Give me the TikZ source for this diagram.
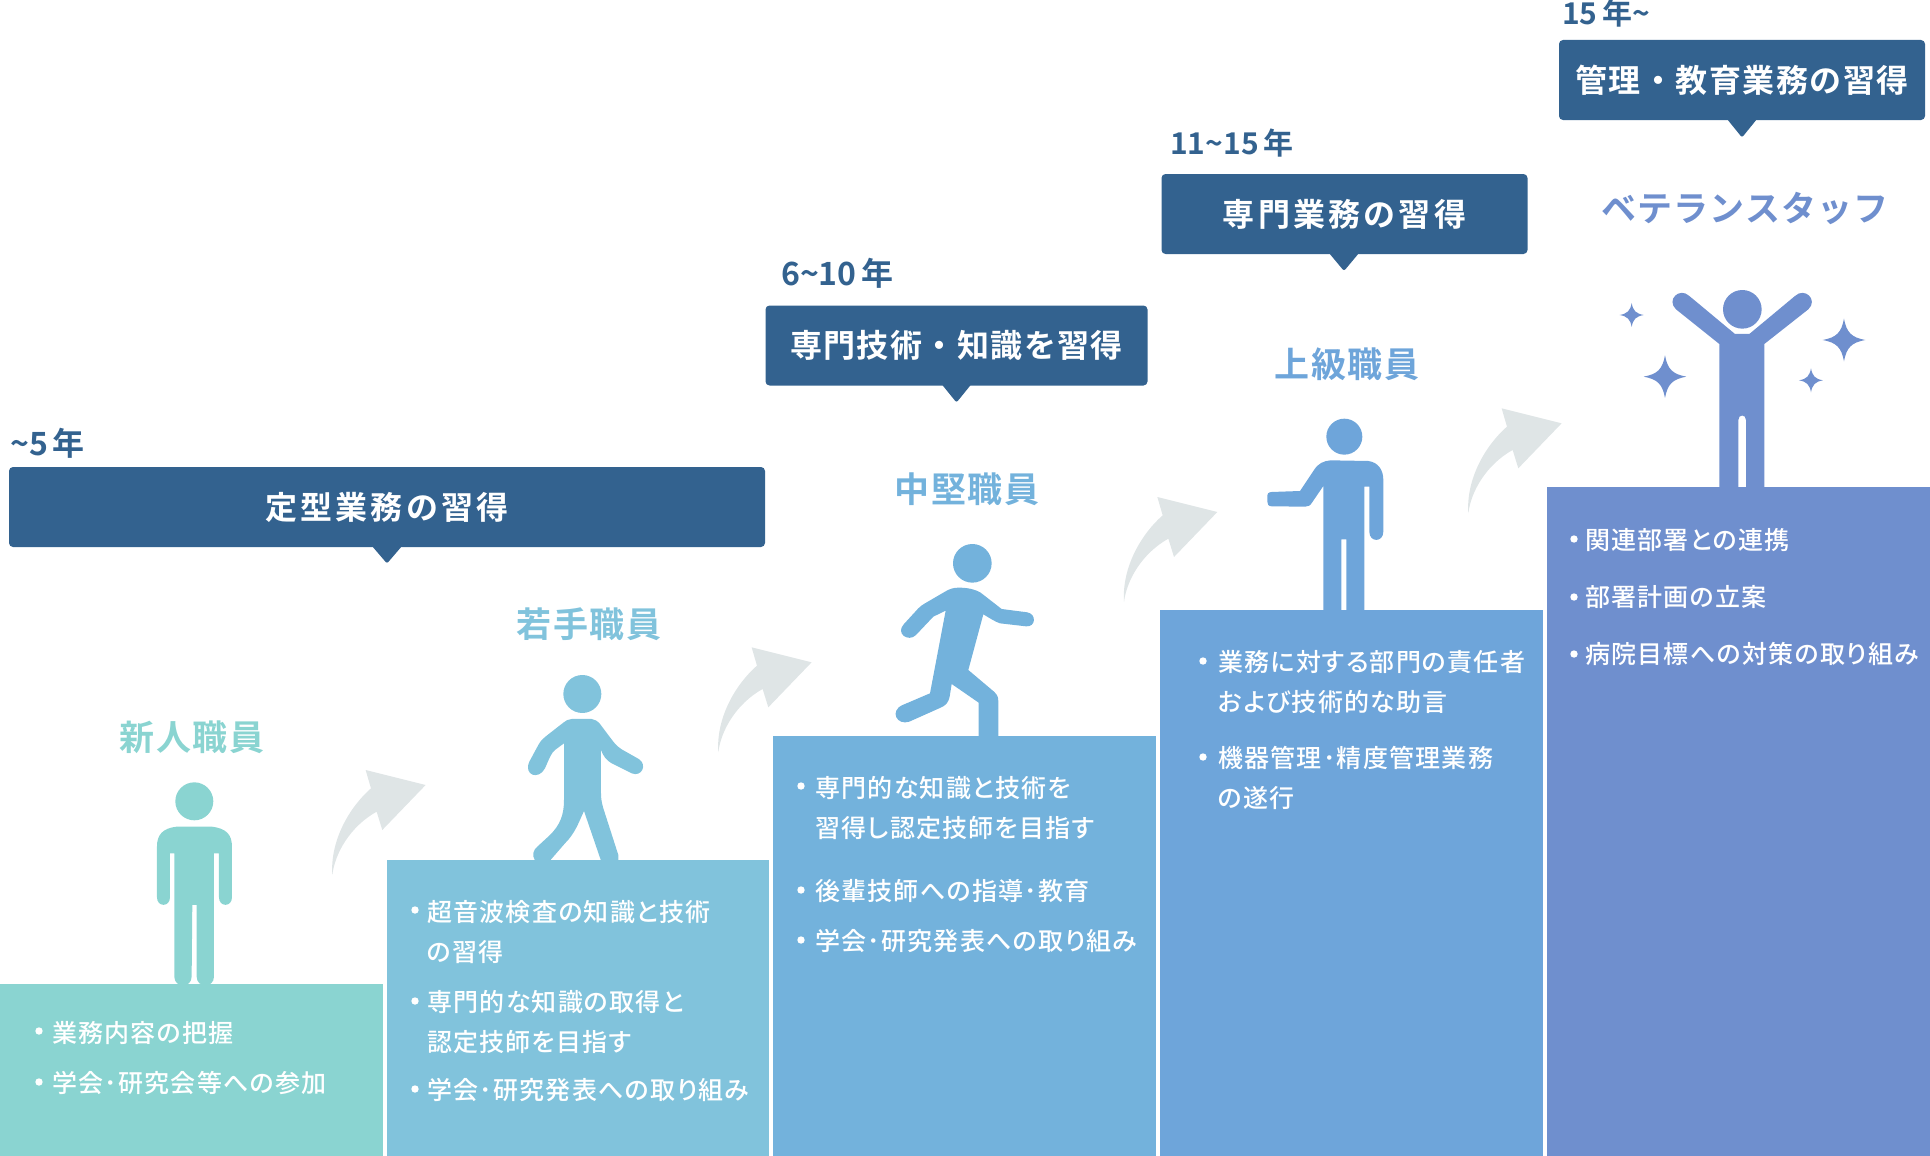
\documentclass[tikz,border=0pt]{standalone}
\usepackage{fontspec}
\newfontfamily\jp{Noto Sans CJK JP}[UprightFont=* Bold]
\newfontfamily\jpbody{Noto Sans CJK JP}[UprightFont=* Medium,LetterSpace=5,RawFeature=+palt]
\newfontfamily\jpbanA{Noto Sans CJK JP}[UprightFont=* Bold,LetterSpace=10]
\newfontfamily\jpbanB{Noto Sans CJK JP}[UprightFont=* Bold,LetterSpace=4.5]
\newfontfamily\jptitle{Noto Sans CJK JP}[UprightFont=* Bold,LetterSpace=5]
\newfontfamily\jptitleK{Noto Sans CJK JP}[UprightFont=* Bold,LetterSpace=3]
\definecolor{cA}{HTML}{8AD4D1}
\definecolor{cB}{HTML}{81C3DC}
\definecolor{cC}{HTML}{73B2DC}
\definecolor{cD}{HTML}{6EA5DA}
\definecolor{cE}{HTML}{6F8FCE}
\definecolor{navy}{HTML}{33628F}
\definecolor{arrowgrey}{HTML}{DFE5E6}
\tikzset{
  listline/.style={anchor=base west,inner sep=0pt,yshift=-0.6pt,text=white,font=\fontsize{25}{25}\selectfont\jpbody},
  stagetitle/.style={anchor=base,inner sep=0pt,yshift=-0.5pt,font=\fontsize{35}{35}\selectfont\jptitle},
  yearlabel/.style={anchor=base west,inner sep=0pt,text=navy,font=\fontsize{30}{30}\selectfont\jp},
  banner/.style={fill=navy,rounded corners=4pt,inner sep=0pt,text=white},
  zoomA/.style={x=0.3333pt,y=-0.3333pt}
}
\newcommand{\dotat}[2]{\fill[white] (#1,#2) circle (3.7);}
\newcommand{\sparkle}[3]{\fill (#1,#2-#3) .. controls (#1+0.12*#3,#2-0.35*#3) and (#1+0.35*#3,#2-0.12*#3) .. (#1+#3,#2)
  .. controls (#1+0.35*#3,#2+0.12*#3) and (#1+0.12*#3,#2+0.35*#3) .. (#1,#2+#3)
  .. controls (#1-0.12*#3,#2+0.35*#3) and (#1-0.35*#3,#2+0.12*#3) .. (#1-#3,#2)
  .. controls (#1-0.35*#3,#2-0.12*#3) and (#1-0.12*#3,#2-0.35*#3) .. (#1,#2-#3) -- cycle;}
\newcommand{\riser}[2]{\begin{scope}[shift={(#1,#2)},zoomA]
  \fill[arrowgrey] (0,0) .. controls (-7,-105) and (53,-205) .. (116,-260) -- (100,-315) -- (280,-270) -- (150,-135) -- (133,-190) .. controls (53,-145) and (8,-65) .. (0,0) -- cycle;
\end{scope}}
\begin{document}
\begin{tikzpicture}[x=1pt,y=-1pt]
\useasboundingbox (0,0) rectangle (1930,1156);
\clip (0,0) rectangle (1930,1156);
% steps
\fill[cA] (0,984) rectangle (383,1156);
\fill[cB] (387,860) rectangle (769,1156);
\fill[cC] (773,736) rectangle (1156,1156);
\fill[cD] (1160,610) rectangle (1543,1156);
\fill[cE] (1547,487) rectangle (1930,1156);
% arrows
\riser{332.3}{875}
\riser{718.3}{752.3}
\riser{1124}{602}
\riser{1468.3}{513.3}
% figure 1
\begin{scope}[shift={(0,660)},zoomA,fill=cA]
\fill (583,424) circle (57);
\fill (530,500) -- (635,500) .. controls (680,505) and (696,525) .. (696,560) -- (696,712)
  .. controls (696,742) and (657,742) .. (657,712) -- (657,580) -- (642,580) -- (642,950)
  .. controls (642,985) and (590,985) .. (590,950) -- (590,735) -- (577,735) -- (575,950)
  .. controls (575,985) and (523,985) .. (523,950) -- (523,580) -- (510,580) -- (510,712)
  .. controls (510,742) and (471,742) .. (471,712) -- (471,560) .. controls (471,525) and (487,505) .. (530,500) -- cycle;
\end{scope}
% figure 2
\begin{scope}[shift={(500,620)},zoomA,fill=cB]
\fill (247,222) circle (57);
\fill (215,297) -- (275,297) .. controls (285,298) and (292,303) .. (300,312) -- (340,365) .. controls (350,377) and (355,382) .. (365,388)
  -- (418,418) .. controls (442,435) and (425,472) .. (395,460) -- (335,430) .. controls (318,420) and (310,408) .. (303,390)
  -- (303,520) .. controls (303,535) and (305,548) .. (310,565) -- (355,705) -- (355,722) -- (303,722) -- (252,573)
  .. controls (235,610) and (225,640) .. (195,670) -- (150,722) -- (105,722) .. controls (95,705) and (100,690) .. (112,680)
  -- (150,645) .. controls (180,615) and (192,585) .. (192,540) -- (192,370) -- (165,390) .. controls (155,398) and (150,410) .. (135,445)
  .. controls (115,482) and (70,465) .. (88,425) -- (115,375) .. controls (122,362) and (128,357) .. (140,347) -- (190,308) .. controls (198,301) and (205,298) .. (215,297) -- cycle;
\end{scope}
% figure 3
\begin{scope}[shift={(880,520)},zoomA,fill=cC]
\fill (277,130) circle (58);
\fill (235,203) .. controls (265,203) and (285,208) .. (302,218) -- (365,267) -- (442,277) .. controls (470,282) and (468,322) .. (438,319)
  -- (360,310) .. controls (345,305) and (330,295) .. (310,283) -- (265,450) -- (342,515) .. controls (352,525) and (355,530) .. (355,545)
  -- (355,650) -- (296,650) -- (296,548) -- (215,492) -- (209,530) .. controls (205,548) and (198,556) .. (182,563)
  -- (88,605) .. controls (50,618) and (28,572) .. (68,555) -- (150,520) -- (197,272) -- (160,290) -- (108,345)
  .. controls (85,368) and (45,340) .. (72,312) -- (115,265) .. controls (122,258) and (128,254) .. (135,250) -- (195,215) .. controls (208,207) and (220,203) .. (235,203) -- cycle;
\end{scope}
% figure 4
\begin{scope}[shift={(1240,400)},zoomA,fill=cD]
\fill (313,110) circle (54);
\fill (272,181) -- (385,183) .. controls (415,187) and (430,210) .. (430,240) -- (430,395)
  .. controls (430,428) and (388,428) .. (388,395) -- (388,260) -- (373,260) -- (373,632) -- (319,632) -- (319,418) -- (304,418) -- (304,632) -- (250,632) -- (250,258)
  -- (218,305) .. controls (210,318) and (205,320) .. (195,320) -- (95,319) .. controls (85,319) and (82,312) .. (82,305) -- (82,290) .. controls (82,280) and (85,277) .. (95,276)
  -- (180,273) -- (222,210) .. controls (235,190) and (250,183) .. (272,181) -- cycle;
\end{scope}
% figure 5
\begin{scope}[shift={(1580,270)},zoomA,fill=cE]
\fill (487,118) circle (58);
\fill (465,192) -- (508,192) -- (645,78) .. controls (675,50) and (715,90) .. (685,118) -- (553,222) -- (553,655) -- (498,655) -- (498,450)
  .. controls (498,432) and (475,432) .. (475,450) -- (475,655) -- (418,655) -- (418,222) -- (288,118) .. controls (258,90) and (298,50) .. (328,78) -- cycle;
\sparkle{155}{135}{36}
\sparkle{255}{320}{64}
\sparkle{792}{210}{64}
\sparkle{693}{331}{36}
\end{scope}
% banners
\fill[navy,rounded corners=2pt] (372,546) -- (387,563.5) -- (402,546) -- cycle;
\node[banner,minimum width=756pt,minimum height=80pt,font=\fontsize{32}{32}\selectfont\jpbanA] (banA) at (387,507) {定型業務の習得};
\fill[navy,rounded corners=2pt] (941.5,384) -- (956.5,402.5) -- (971.5,384) -- cycle;
\node[banner,minimum width=382pt,minimum height=80pt,font=\fontsize{32}{32}\selectfont\jpbanB] (banB) at (956.5,345.5) {専門技術・知識を習得};
\fill[navy,rounded corners=2pt] (1329,253) -- (1344,271) -- (1359,253) -- cycle;
\node[banner,minimum width=366pt,minimum height=80pt,font=\fontsize{32}{32}\selectfont\jpbanA] (banC) at (1344.5,214) {専門業務の習得};
\fill[navy,rounded corners=2pt] (1727,119) -- (1742,137.5) -- (1757,119) -- cycle;
\node[banner,minimum width=366pt,minimum height=80pt,font=\fontsize{32}{32}\selectfont\jpbanB] (banD) at (1742,80) {管理・教育業務の習得};
% years
\node[yearlabel,font=\fontsize{32}{32}\selectfont\jp] (yrA) at (10,455) {\textasciitilde 5\hspace{5pt}年};
\node[yearlabel,font=\fontsize{32}{32}\selectfont\jp] (yrB) at (781,285) {6\textasciitilde 10\hspace{5pt}年};
\node[yearlabel] (yrC) at (1170,154) {11\textasciitilde 15\hspace{5pt}年};
\node[yearlabel] (yrD) at (1562,25) {15\hspace{5pt}年\textasciitilde};
% titles
\node[stagetitle,text=cA] (tA) at (192,749.5) {新人職員};
\node[stagetitle,text=cB] (tB) at (589,637) {若手職員};
\node[stagetitle,text=cC] (tC) at (967,502) {中堅職員};
\node[stagetitle,text=cD] (tD) at (1347,377) {上級職員};
\node[stagetitle,text=cE,font=\fontsize{35}{35}\selectfont\jptitleK] (tE) at (1745,221) {ベテランスタッフ};
% lists
\dotat{39}{1031}\node[listline] (lA1) at (52,1042) {業務内容の把握};
\dotat{39}{1082}\node[listline] (lA2) at (52,1092) {学会･研究会等への参加};
\dotat{415}{910}\node[listline] (lB1) at (427,921) {超音波検査の知識と技術};
\node[listline] (lB2) at (427,961) {の習得};
\dotat{415}{1001}\node[listline] (lB3) at (427,1011) {専門的な知識の取得と};
\node[listline] (lB4) at (427,1051) {認定技師を目指す};
\dotat{415}{1089}\node[listline] (lB5) at (427,1099) {学会･研究発表への取り組み};
\dotat{801}{786}\node[listline] (lC1) at (815,797) {専門的な知識と技術を};
\node[listline] (lC2) at (815,837) {習得し認定技師を目指す};
\dotat{801}{890}\node[listline] (lC3) at (815,900) {後輩技師への指導･教育};
\dotat{801}{940}\node[listline] (lC4) at (815,950) {学会･研究発表への取り組み};
\dotat{1203}{661}\node[listline] (lD1) at (1218,671) {業務に対する部門の責任者};
\node[listline] (lD2) at (1218,711) {および技術的な助言};
\dotat{1203}{757}\node[listline] (lD3) at (1218,767) {機器管理･精度管理業務};
\node[listline] (lD4) at (1218,807) {の遂行};
\dotat{1574}{539}\node[listline] (lE1) at (1585,549) {関連部署との連携};
\dotat{1574}{597}\node[listline] (lE2) at (1585,606) {部署計画の立案};
\dotat{1574}{654}\node[listline] (lE3) at (1585,663) {病院目標への対策の取り組み};
\end{tikzpicture}
\end{document}
